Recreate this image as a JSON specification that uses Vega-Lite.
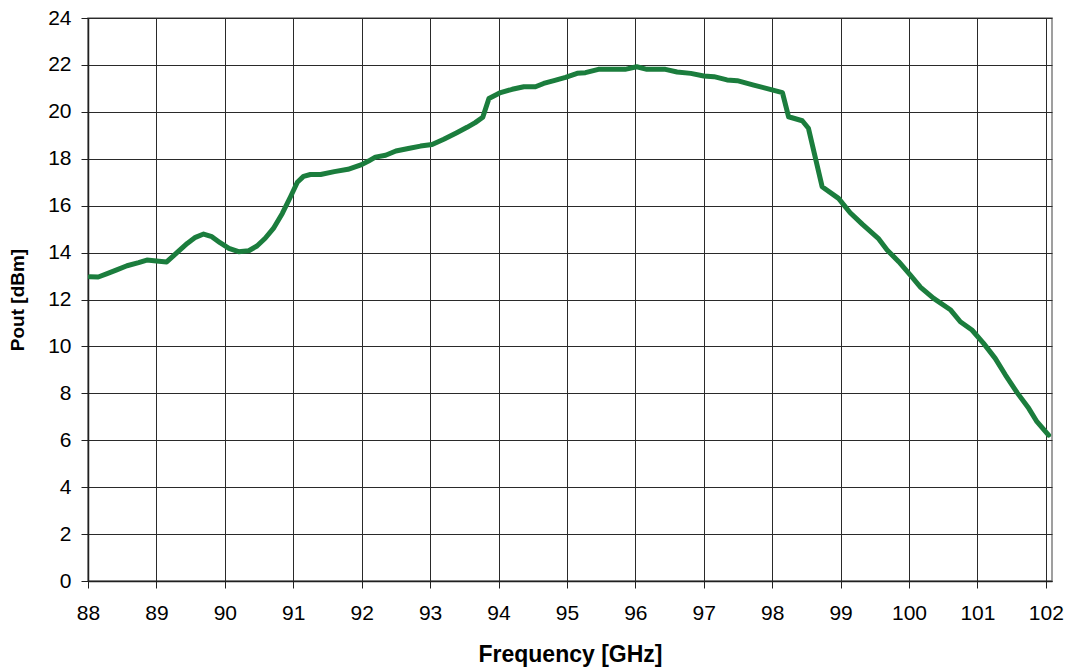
{
  "$schema": "https://vega.github.io/schema/vega-lite/v6.json",
  "autosize": {"type": "none"},
  "padding": {"left": 88, "top": 18, "right": 19, "bottom": 89},
  "width": 964,
  "height": 563,
  "background": "white",
  "config": {
    "view": {"stroke": "#808080", "strokeWidth": 1.5},
    "font": "Liberation Sans"
  },
  "data": {
    "values": [
      {"f": 88.03, "p": 12.97}, {"f": 88.15, "p": 12.96}, {"f": 88.28, "p": 13.1},
      {"f": 88.42, "p": 13.26}, {"f": 88.57, "p": 13.44}, {"f": 88.74, "p": 13.57},
      {"f": 88.86, "p": 13.68}, {"f": 89.0, "p": 13.64}, {"f": 89.15, "p": 13.6},
      {"f": 89.3, "p": 14.0}, {"f": 89.45, "p": 14.39}, {"f": 89.57, "p": 14.65},
      {"f": 89.69, "p": 14.79}, {"f": 89.81, "p": 14.68}, {"f": 89.93, "p": 14.42},
      {"f": 90.06, "p": 14.18}, {"f": 90.2, "p": 14.04}, {"f": 90.35, "p": 14.08},
      {"f": 90.47, "p": 14.28}, {"f": 90.59, "p": 14.61}, {"f": 90.71, "p": 15.03},
      {"f": 90.84, "p": 15.67}, {"f": 90.96, "p": 16.38}, {"f": 91.06, "p": 17.0},
      {"f": 91.15, "p": 17.25}, {"f": 91.25, "p": 17.33}, {"f": 91.4, "p": 17.33},
      {"f": 91.6, "p": 17.45}, {"f": 91.8, "p": 17.55}, {"f": 92.0, "p": 17.75},
      {"f": 92.1, "p": 17.9}, {"f": 92.2, "p": 18.07}, {"f": 92.35, "p": 18.15},
      {"f": 92.5, "p": 18.33}, {"f": 92.7, "p": 18.45}, {"f": 92.86, "p": 18.54},
      {"f": 93.03, "p": 18.61}, {"f": 93.2, "p": 18.83}, {"f": 93.39, "p": 19.11},
      {"f": 93.54, "p": 19.34}, {"f": 93.66, "p": 19.54}, {"f": 93.77, "p": 19.77},
      {"f": 93.86, "p": 20.57}, {"f": 94.03, "p": 20.82}, {"f": 94.2, "p": 20.96},
      {"f": 94.37, "p": 21.07}, {"f": 94.54, "p": 21.07}, {"f": 94.66, "p": 21.21},
      {"f": 94.81, "p": 21.33}, {"f": 94.98, "p": 21.47}, {"f": 95.15, "p": 21.64},
      {"f": 95.27, "p": 21.67}, {"f": 95.46, "p": 21.81}, {"f": 95.66, "p": 21.81},
      {"f": 95.85, "p": 21.81}, {"f": 96.02, "p": 21.92}, {"f": 96.17, "p": 21.81},
      {"f": 96.44, "p": 21.81}, {"f": 96.61, "p": 21.7}, {"f": 96.81, "p": 21.64},
      {"f": 97.0, "p": 21.53}, {"f": 97.15, "p": 21.5}, {"f": 97.34, "p": 21.36},
      {"f": 97.49, "p": 21.33}, {"f": 97.73, "p": 21.14}, {"f": 97.97, "p": 20.96},
      {"f": 98.15, "p": 20.82}, {"f": 98.24, "p": 19.79}, {"f": 98.44, "p": 19.62},
      {"f": 98.53, "p": 19.3}, {"f": 98.73, "p": 16.81}, {"f": 98.97, "p": 16.31},
      {"f": 99.14, "p": 15.7}, {"f": 99.32, "p": 15.2}, {"f": 99.55, "p": 14.61},
      {"f": 99.68, "p": 14.11}, {"f": 99.85, "p": 13.61}, {"f": 100.02, "p": 13.04},
      {"f": 100.17, "p": 12.52}, {"f": 100.36, "p": 12.05}, {"f": 100.61, "p": 11.55},
      {"f": 100.75, "p": 11.05}, {"f": 100.92, "p": 10.7}, {"f": 101.09, "p": 10.13},
      {"f": 101.26, "p": 9.49}, {"f": 101.41, "p": 8.78}, {"f": 101.58, "p": 8.03},
      {"f": 101.75, "p": 7.36}, {"f": 101.87, "p": 6.79}, {"f": 102.04, "p": 6.22}
    ]
  },
  "mark": {"type": "line", "color": "#1B7D3D", "strokeWidth": 5, "strokeJoin": "round", "strokeCap": "round", "clip": true},
  "encoding": {
    "x": {
      "field": "f", "type": "quantitative",
      "scale": {"domain": [88, 102.09], "nice": false, "zero": false},
      "axis": {
        "title": "Frequency [GHz]",
        "values": [88, 89, 90, 91, 92, 93, 94, 95, 96, 97, 98, 99, 100, 101, 102],
        "format": "d",
        "grid": true, "gridColor": "#2a2a2a", "gridOpacity": 1, "gridWidth": 1,
        "domainColor": "#202020", "domainWidth": 1.5,
        "tickColor": "#202020", "tickSize": 7, "tickWidth": 1,
        "labelFont": "Liberation Sans", "labelFontSize": 21, "labelColor": "black",
        "labelPadding": 14, "labelFlush": false, "labelOverlap": false,
        "titleFont": "Liberation Sans", "titleFontSize": 23, "titleFontWeight": "bold",
        "titleColor": "black", "titlePadding": 20
      }
    },
    "y": {
      "field": "p", "type": "quantitative",
      "scale": {"domain": [0, 24], "nice": false},
      "axis": {
        "title": "Pout [dBm]",
        "values": [0, 2, 4, 6, 8, 10, 12, 14, 16, 18, 20, 22, 24],
        "grid": true, "gridColor": "#2a2a2a", "gridOpacity": 1, "gridWidth": 1,
        "domainColor": "#202020", "domainWidth": 1.5,
        "tickColor": "#202020", "tickSize": 7, "tickWidth": 1,
        "labelFont": "Liberation Sans", "labelFontSize": 21, "labelColor": "black",
        "labelPadding": 10, "labelFlush": false, "labelOverlap": false,
        "titleFont": "Liberation Sans", "titleFontSize": 19, "titleFontWeight": "bold",
        "titleColor": "black", "titlePadding": 20
      }
    }
  }
}
